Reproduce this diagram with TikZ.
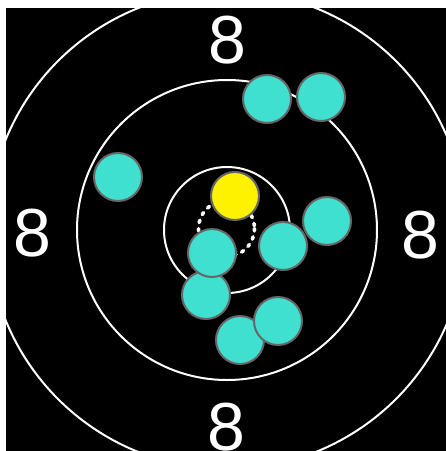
\documentclass[tikz,border=0pt]{standalone}
\usepackage{fontspec}
\setmainfont{Liberation Sans}

\definecolor{turquoise}{HTML}{40E0D0}
\definecolor{contour}{HTML}{666666}

\tikzset{
anneau/.style={white, line width=1.5pt},
chiffre/.style={text=white, inner sep=0pt, font=\fontsize{51}{51}\selectfont},
tir/.style={fill=turquoise, draw=contour, line width=1.5pt},
mouche/.style={fill=yellow, draw=contour, line width=1.5pt},
groupement/.style={white, line width=2.7pt, line cap=round, dash pattern=on 1.8pt off 4.6pt}
}

\begin{document}
\begin{tikzpicture}[x=0.75pt,y=-0.75pt]

\useasboundingbox (0,0) rectangle (446,451);

% Cible
\fill[black] (6,8) rectangle (446,451);

\begin{scope}
\clip (6,8) rectangle (446,451);

\foreach \r in {239,150,63}
{
\draw[anneau] (227,230) circle (\r);
}

\node[chiffre] (haut) at (227,40) {8};
\node[chiffre] (bas) at (226,427) {8};
\node[chiffre] (gauche) at (32,233) {8};
\node[chiffre] (droite) at (420,235) {8};

\end{scope}

% Groupement
\draw[groupement] (226.5,228.5) circle (28);

% Impacts
\foreach \x/\y in {
267/99,321/97,
118/177,
327/221,283/246,
206/295,212/253,
240/340,278/321
}
{
\draw[tir] (\x,\y) circle (24);
}

\draw[mouche] (235,196) circle (24);

\end{tikzpicture}
\end{document}
